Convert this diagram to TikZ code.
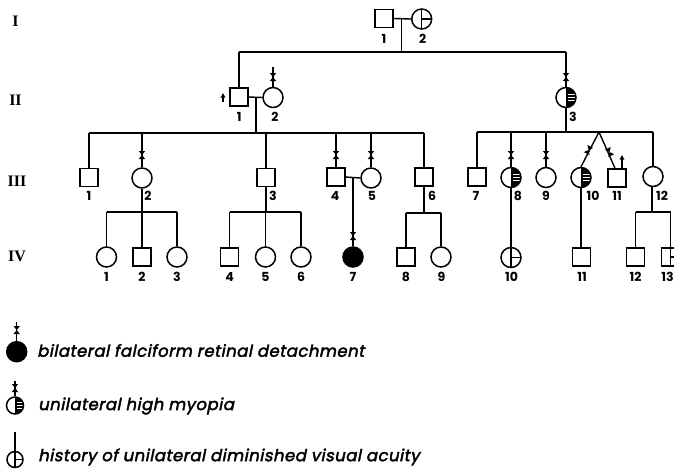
\documentclass[tikz,border=0pt]{standalone}
\usepackage{fontspec}
\usetikzlibrary{arrows.meta}
\newfontfamily\numfont{Poppins}
\newfontfamily\legfont{Poppins}[FakeSlant=0.2,FakeBold=2.5,LetterSpace=3]
\newfontfamily\genfont{Liberation Serif}
\tikzset{
  sq/.style={draw, rectangle, minimum size=18, inner sep=0, line width=1.5},
  ci/.style={draw, circle, minimum size=20, inner sep=0, line width=1.5},
  aff/.style={fill=black},
  hatch/.style={path picture={
    \fill (path picture bounding box.north) rectangle (path picture bounding box.south east);
    \foreach \d in {-3.2,0,3.2}
      \draw[white,line width=0.9pt] ([xshift=2.2pt,yshift=\d pt]path picture bounding box.center) -- ++(7,0);
  }},
  hist/.style={path picture={
    \draw[line width=1.3pt] (path picture bounding box.north) -- (path picture bounding box.south)
      (path picture bounding box.center) -- (path picture bounding box.east);
  }},
  hglass/.pic={\fill (-3.2,-4) -- (3.2,-4) -- (0,0) -- cycle (-3.2,4) -- (3.2,4) -- (0,0) -- cycle;},
  num/.style={font=\numfont\bfseries\fontsize{12.5}{12.5}\selectfont, inner sep=0},
  gen/.style={font=\genfont\bfseries\fontsize{16}{16}\selectfont, inner sep=0},
  leg/.style={font=\legfont\fontsize{16.5}{17}\selectfont, inner sep=0, anchor=west},
  ln/.style={line width=1.4},
  upar/.style={line width=1.3, -{Triangle[length=4.5pt,width=4.5pt]}}
}
\begin{document}
\begin{tikzpicture}[x=1pt,y=-1pt]
\clip (0,0) rectangle (674,469);
% generation labels
\node[gen] (gI) at (15.5,21) {I};
\node[gen] (gII) at (15.5,100) {II};
\node[gen] (gIII) at (17,181) {III};
\node[gen] (gIV) at (17,256) {IV};

% Generation I
\node[sq] (I1) at (384,18.5) {};
\node[ci,hist] (I2) at (421.7,19) {};
\node[num] at (384,39) {1};
\node[num] at (422.7,39) {2};
\coordinate (m1) at (401.7,18.5);
\coordinate (s1) at (401.7,52);
\coordinate (s1l) at (239,52);
\coordinate (s1r) at (566,52);
\draw[ln] (I1.east) -- (I2.west);
\draw[ln] (m1) -- (s1);
\draw[ln] (s1l) -- (s1r);

% Generation II
\node[sq] (II1) at (239,97) {};
\node[ci] (II2) at (273,97.5) {};
\node[ci,hatch] (II3) at (566,97.5) {};
\node[num] at (239.3,116.5) {1};
\node[num] at (275,116.5) {2};
\node[num] at (573,116.5) {3};
\draw[ln] (s1l) -- (II1.north);
\draw[ln] (s1r) -- (II3.north);
\pic at (566,77) {hglass};
\coordinate (II2top) at (273,67);
\draw[ln] (II2top) -- (II2.north);
\pic at (273,77) {hglass};
\coordinate (afII1a) at (223,102);
\coordinate (afII1b) at (223,93);
\draw[upar] (afII1a) -- (afII1b);
\draw[ln] (II1.east) -- (II2.west);
\coordinate (m2) at (256,97.5);
\coordinate (s2) at (256,133);
\coordinate (s2l) at (89,133);
\coordinate (s2r) at (424,133);
\draw[ln] (m2) -- (s2);
\draw[ln] (s2l) -- (s2r);
\coordinate (s3) at (566,132);
\coordinate (s3l) at (477,132);
\coordinate (s3r) at (653,132);
\coordinate (tw) at (599,132);
\draw[ln] (II3.south) -- (s3);
\draw[ln] (s3l) -- (s3r);

% Generation III
\node[sq] (III1) at (89,177.5) {};
\node[ci] (III2) at (142,178) {};
\node[sq] (III3) at (266,177.5) {};
\node[sq] (III4) at (336,177) {};
\node[ci] (III5) at (371,178) {};
\node[sq] (III6) at (424,177) {};
\node[sq] (III7) at (477,177) {};
\node[ci,hatch] (III8) at (511,177.5) {};
\node[ci] (III9) at (546,177.5) {};
\node[ci,hatch] (III10) at (581,177.5) {};
\node[sq] (III11) at (617,178) {};
\node[ci] (III12) at (653,176.5) {};
\foreach \x/\t in {89/1,148/2,273/3,335/4,372/5,432/6,476/7,518/8,546/9,593/10,617/11,662/12}
  \node[num] at (\x,195.5) {\t};
\draw[ln] (s2l) -- (III1.north);
\draw[ln] (III2.north |- s2l) -- (III2.north);
\draw[ln] (III3.north |- s2l) -- (III3.north);
\draw[ln] (III4.north |- s2l) -- (III4.north);
\draw[ln] (III5.north |- s2l) -- (III5.north);
\draw[ln] (s2r) -- (III6.north);
\draw[ln] (s3l) -- (III7.north);
\draw[ln] (III8.north |- s3l) -- (III8.north);
\draw[ln] (III9.north |- s3l) -- (III9.north);
\draw[ln] (s3r) -- (III12.north);
\draw[ln] (tw) -- (III10.north);
\draw[ln] (tw) -- ([xshift=-2pt]III11.north);
\foreach \x in {142,336,371,511,546} \pic at (\x,155) {hglass};
\pic[rotate=-27] at (588.5,150) {hglass};
\pic[rotate=25] at (609.5,152) {hglass};
\coordinate (afIII11a) at (622,168);
\coordinate (afIII11b) at (622,155);
\draw[upar] (afIII11a) -- (afIII11b);
\draw[ln] (III4.east) -- (III5.west);

% Generation IV
\node[ci] (IV1) at (106.5,257) {};
\node[sq] (IV2) at (142,257) {};
\node[ci] (IV3) at (177,257) {};
\node[sq] (IV4) at (229.5,257) {};
\node[ci] (IV5) at (265.5,257) {};
\node[ci] (IV6) at (301,257) {};
\node[ci,aff] (IV7) at (353,257) {};
\node[sq] (IV8) at (406,257) {};
\node[ci] (IV9) at (441,257) {};
\node[ci,hist] (IV10) at (511,257.5) {};
\node[sq] (IV11) at (581.5,257) {};
\node[sq] (IV12) at (635.5,257) {};
\node[sq,hist] (IV13) at (670.5,257) {};
\foreach \x/\t in {106.5/1,142/2,177/3,229.5/4,265.5/5,301/6,353/7,406/8,441.5/9,511.5/10,582/11,635.5/12,667.5/13}
  \node[num] at (\x,277) {\t};
% sibship III-2
\coordinate (s4) at (142,212);
\draw[ln] (III2.south) -- (s4);
\draw[ln] (IV1.north |- s4) -- (IV3.north |- s4);
\draw[ln] (IV1.north |- s4) -- (IV1.north);
\draw[ln] (s4) -- (IV2.north);
\draw[ln] (IV3.north |- s4) -- (IV3.north);
% sibship III-3
\coordinate (s5) at (266,212);
\draw[ln] (III3.south) -- (s5);
\draw[ln] (IV4.north |- s5) -- (IV6.north |- s5);
\draw[ln] (IV4.north |- s5) -- (IV4.north);
\draw[ln] (IV5.north |- s5) -- (IV5.north);
\draw[ln] (IV6.north |- s5) -- (IV6.north);
% III-4 x III-5
\coordinate (m3) at (353,177);
\draw[ln] (m3) -- (IV7.north);
\pic at (353,236) {hglass};
% sibship III-6
\coordinate (s6) at (424,213);
\draw[ln] (III6.south) -- (s6);
\draw[ln] (IV8.north |- s6) -- (IV9.north |- s6);
\draw[ln] (IV8.north |- s6) -- (IV8.north);
\draw[ln] (IV9.north |- s6) -- (IV9.north);
% III-8 -> IV-10
\draw[ln] (III8.south) -- (IV10.north);
% III-10 -> IV-11
\draw[ln] (III10.south) -- (IV11.north -| III10.south);
% sibship III-12
\coordinate (s7) at (652,212);
\draw[ln] (III12.south -| s7) -- (s7);
\draw[ln] (IV12.north |- s7) -- (IV13.north |- s7);
\draw[ln] (IV12.north |- s7) -- (IV12.north);
\draw[ln] (IV13.north |- s7) -- (IV13.north);

% Legend
\node[ci,aff] (L1) at (16.7,351.7) {};
\coordinate (L1t) at (16.7,322);
\draw[ln] (L1t) -- (L1.north);
\pic at (16.7,330) {hglass};
\node[leg] (T1) at (37,350.5) {bilateral falciform retinal detachment};
\node[ci,hatch,minimum size=17] (L2) at (15,405.5) {};
\coordinate (L2t) at (15,381);
\draw[ln] (L2t) -- (L2.north);
\pic at (15,388) {hglass};
\node[leg] (T2) at (38,406) {unilateral high myopia};
\node[ci,hist,minimum size=16] (L3) at (15,459.5) {};
\coordinate (L3t) at (15,432);
\draw[ln] (L3t) -- (L3.north);
\node[leg] (T3) at (38,457) {history of unilateral diminished visual acuity};
\end{tikzpicture}
\end{document}
